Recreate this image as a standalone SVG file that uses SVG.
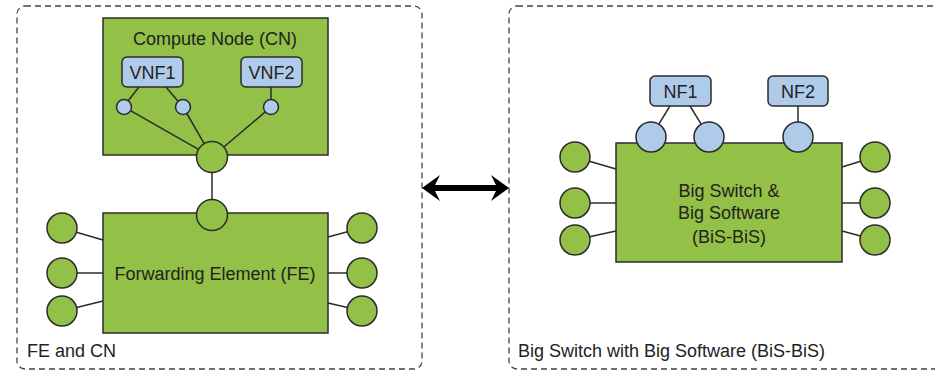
<svg xmlns="http://www.w3.org/2000/svg" width="935" height="371" viewBox="0 0 935 371">
<style>
.box{fill:none;stroke:#444;stroke-width:1.3;stroke-dasharray:6 4}
.g{fill:#93c047;stroke:#2b2b2b;stroke-width:1.5}
.b{fill:#afcbea;stroke:#2b2b2b;stroke-width:1.5}
.ln{stroke:#2b2b2b;stroke-width:1.5;fill:none}
text{font-family:"Liberation Sans",Arial,sans-serif;font-size:18px;fill:#222}
.c{text-anchor:middle}
</style>
<rect width="935" height="371" fill="#fff"/>
<g id="group-fe-cn">
<rect class="box" x="17" y="6" width="405" height="363" rx="8"/>
<text x="27" y="357">FE and CN</text>
</g>
<g id="group-bisbis">
<rect class="box" x="509" y="6" width="440" height="363" rx="8"/>
<text x="518" y="357">Big Switch with Big Software (BiS-BiS)</text>
</g>
<g id="cn">
<rect class="g" x="103" y="18" width="225" height="137"/>
<text class="c" x="215" y="45">Compute Node (CN)</text>
</g>
<g id="vnf1">
<rect class="b" x="122" y="57" width="61" height="30" rx="5"/>
<text class="c" x="152.5" y="79">VNF1</text>
</g>
<g id="vnf2">
<rect class="b" x="241" y="57" width="61" height="30" rx="5"/>
<text class="c" x="271.5" y="79">VNF2</text>
</g>
<g id="vnf-ports">
<circle class="b" cx="124" cy="107" r="7.5"/>
<circle class="b" cx="183" cy="107" r="7.5"/>
<circle class="b" cx="271" cy="107" r="7.5"/>
</g>
<g id="fe">
<rect class="g" x="103" y="213" width="225" height="120"/>
<text class="c" x="215" y="280">Forwarding Element (FE)</text>
</g>
<g id="cn-port"><circle class="g" cx="212" cy="157" r="15.5"/></g>
<g id="fe-top-port"><circle class="g" cx="212" cy="215" r="15.5"/></g>
<g id="fe-ports">
<circle class="g" cx="62" cy="228" r="15"/>
<circle class="g" cx="62" cy="273" r="15"/>
<circle class="g" cx="62" cy="311" r="15"/>
<circle class="g" cx="362" cy="228" r="15"/>
<circle class="g" cx="362" cy="273" r="15"/>
<circle class="g" cx="362" cy="311" r="15"/>
</g>
<g id="bisbis">
<rect class="g" x="616" y="143" width="226" height="119"/>
<text class="c" x="729" y="197">Big Switch &amp;</text>
<text class="c" x="729" y="219">Big Software</text>
<text class="c" x="729" y="243">(BiS-BiS)</text>
</g>
<g id="nf1">
<rect class="b" x="650" y="76" width="61" height="30" rx="5"/>
<text class="c" x="680.5" y="98">NF1</text>
</g>
<g id="nf2">
<rect class="b" x="768" y="76" width="60" height="30" rx="5"/>
<text class="c" x="798" y="98">NF2</text>
</g>
<g id="nf-ports">
<circle class="b" cx="651" cy="137" r="15"/>
<circle class="b" cx="709" cy="137" r="15"/>
<circle class="b" cx="798" cy="137" r="15"/>
</g>
<g id="bisbis-ports">
<circle class="g" cx="575" cy="157" r="15"/>
<circle class="g" cx="575" cy="203" r="15"/>
<circle class="g" cx="575" cy="240" r="15"/>
<circle class="g" cx="875" cy="157" r="15"/>
<circle class="g" cx="875" cy="203" r="15"/>
<circle class="g" cx="875" cy="240" r="15"/>
</g>
<g id="connectors">
<line class="ln" x1="139" y1="87" x2="128.2" y2="100.8"/>
<line class="ln" x1="166" y1="87" x2="177.8" y2="101"/>
<line class="ln" x1="271" y1="87" x2="271" y2="99.5"/>
<line class="ln" x1="130.5" y1="110.7" x2="198.5" y2="149.3"/>
<line class="ln" x1="186.8" y1="113.5" x2="204.2" y2="143.6"/>
<line class="ln" x1="265.3" y1="111.9" x2="223.8" y2="147"/>
<line class="ln" x1="212" y1="172.5" x2="212" y2="199.5"/>
<line class="ln" x1="76.4" y1="232.2" x2="103" y2="240"/>
<line class="ln" x1="77" y1="273" x2="103" y2="273"/>
<line class="ln" x1="76.6" y1="307.4" x2="103" y2="301"/>
<line class="ln" x1="328" y1="237" x2="347.5" y2="231.8"/>
<line class="ln" x1="328" y1="273" x2="347" y2="273"/>
<line class="ln" x1="328" y1="303" x2="347.5" y2="307.4"/>
<line class="ln" x1="670" y1="106" x2="658.8" y2="124.2"/>
<line class="ln" x1="690" y1="106" x2="701.2" y2="124.2"/>
<line class="ln" x1="798" y1="106" x2="798" y2="122"/>
<line class="ln" x1="589.4" y1="161.2" x2="616" y2="169"/>
<line class="ln" x1="590" y1="203" x2="616" y2="203"/>
<line class="ln" x1="589.6" y1="236.8" x2="616" y2="231"/>
<line class="ln" x1="842" y1="167" x2="860.6" y2="161.3"/>
<line class="ln" x1="842" y1="203" x2="860" y2="203"/>
<line class="ln" x1="842" y1="231" x2="860.5" y2="236"/>
<path d="M422,188 L440,175 L435,185 L496,185 L491,175 L509,188 L491,201 L496,191 L435,191 L440,201 Z" fill="#000"/>
</g>
</svg>
